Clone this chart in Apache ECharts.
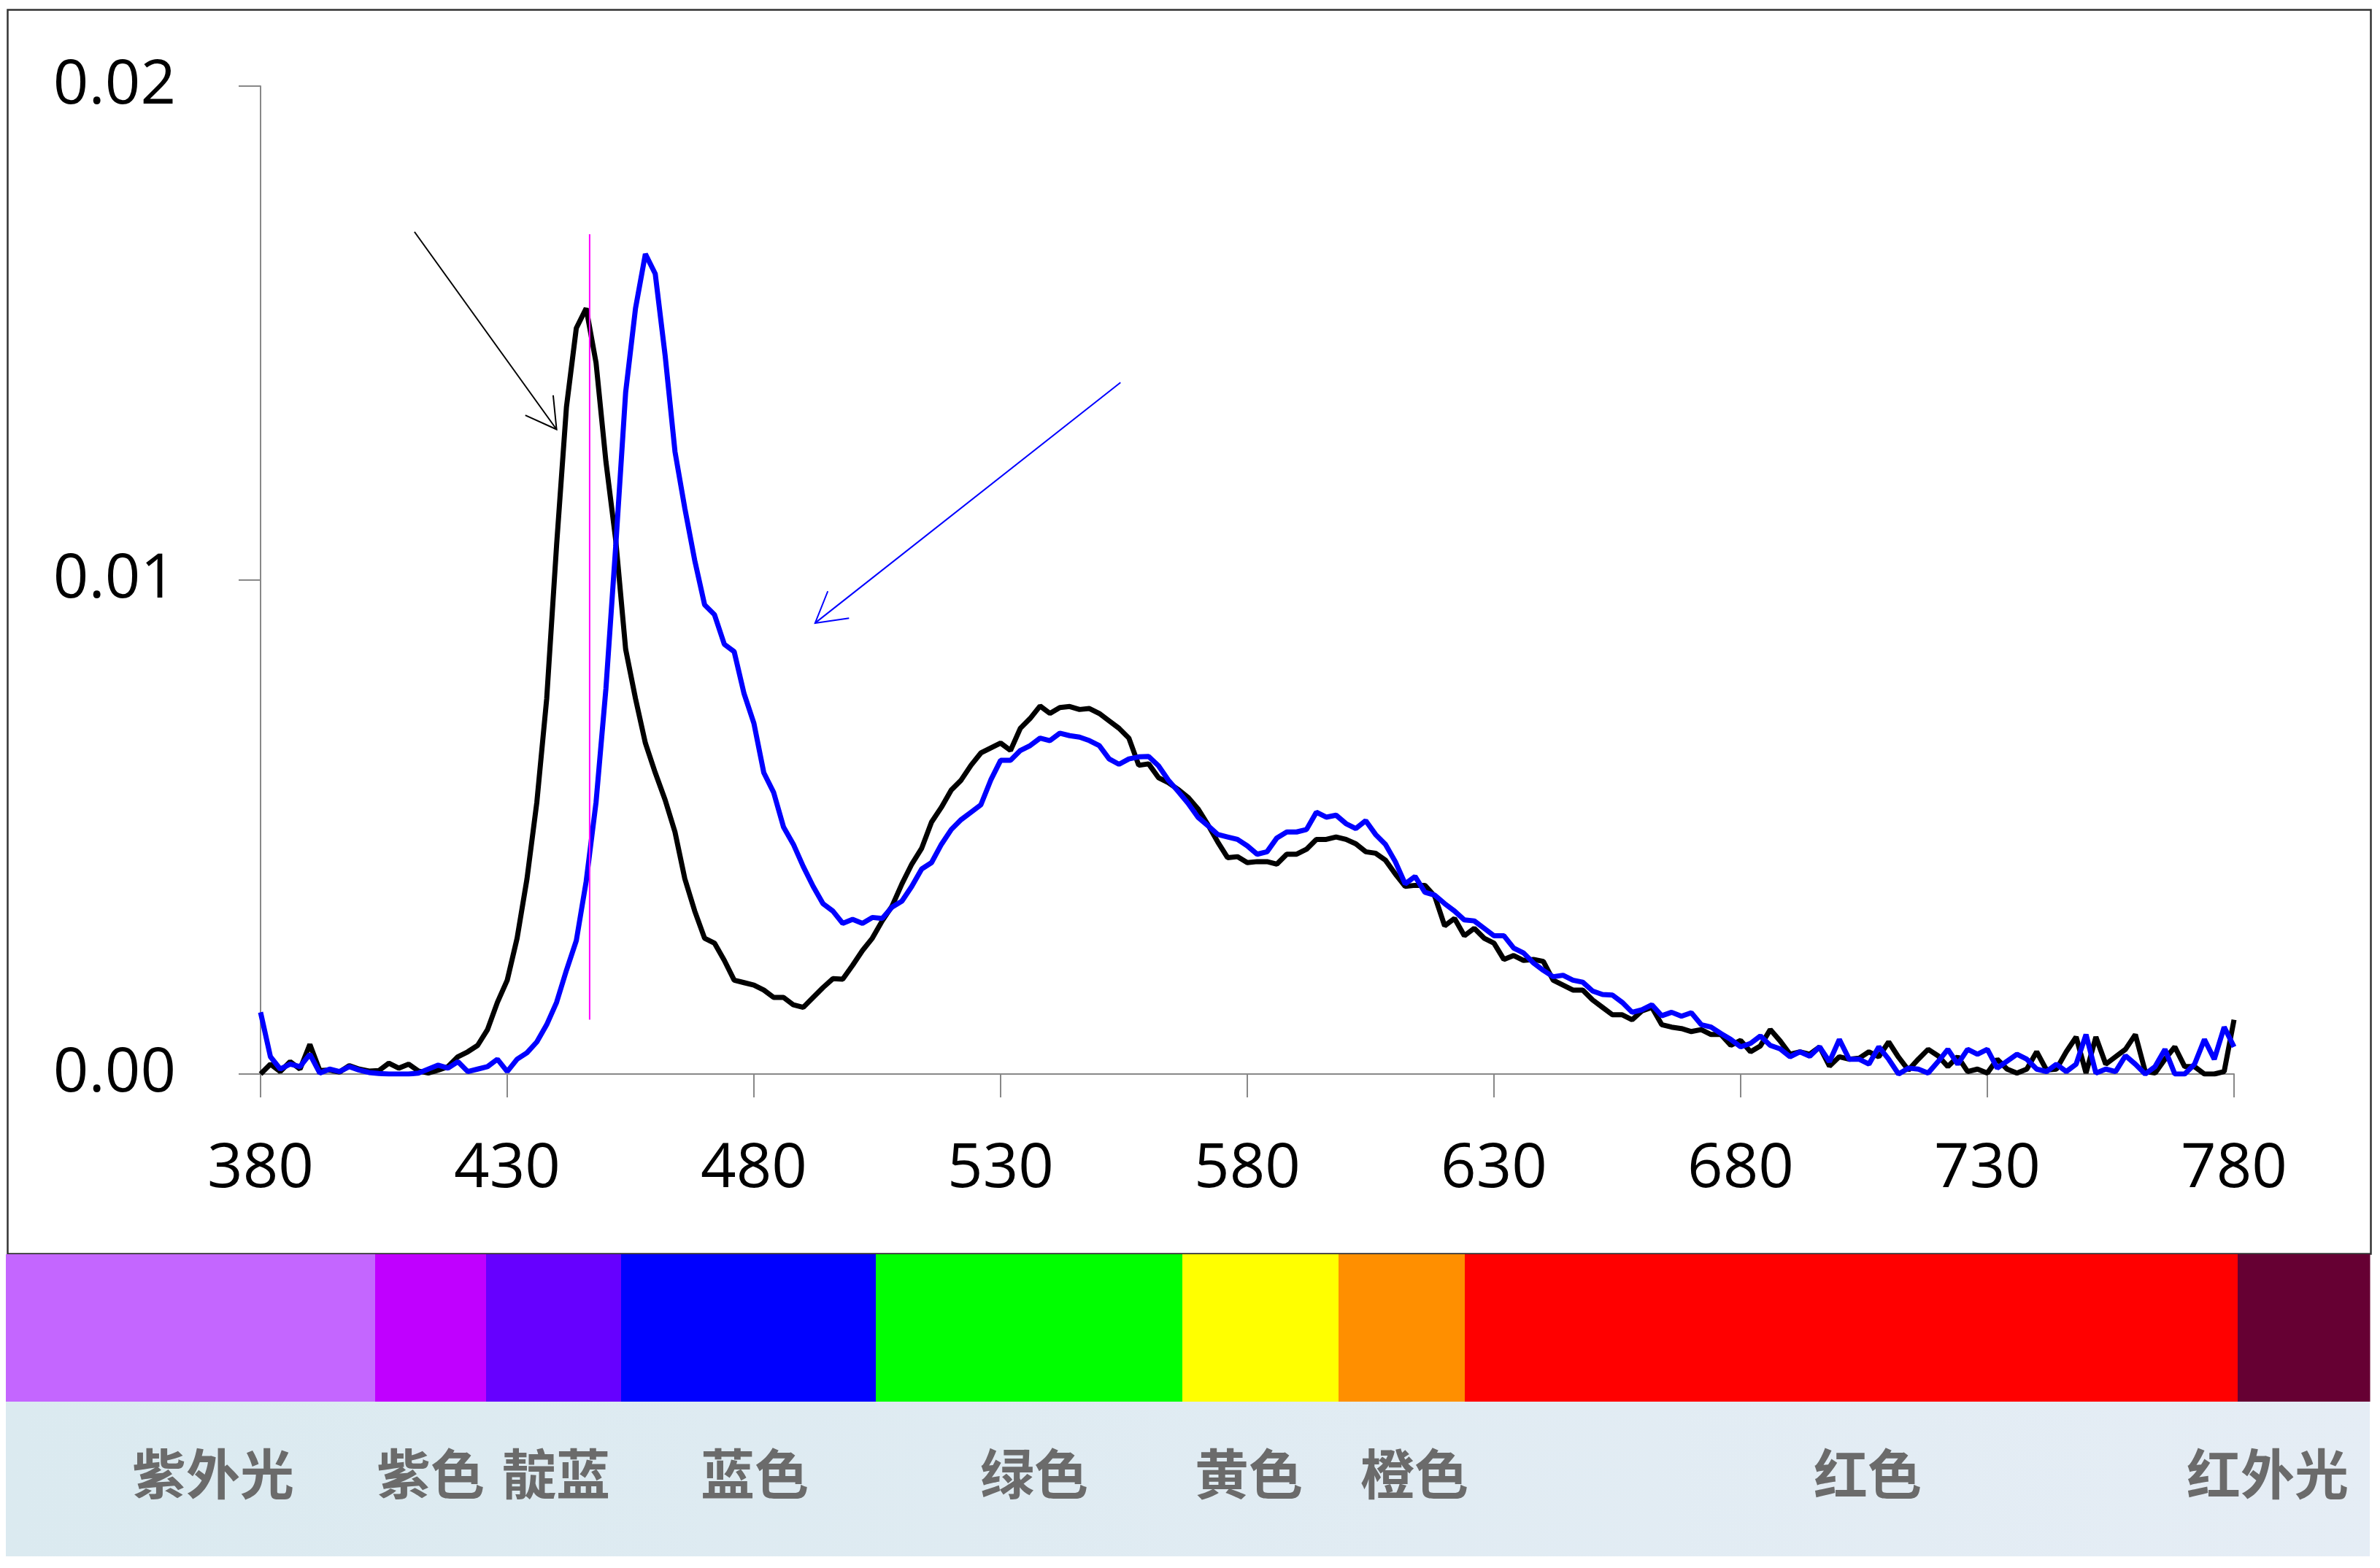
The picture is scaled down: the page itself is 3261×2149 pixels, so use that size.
<!DOCTYPE html>
<html><head><meta charset="utf-8">
<script src="https://cdn.jsdelivr.net/npm/echarts@6/dist/echarts.min.js"></script>
<style>html,body{margin:0;padding:0;background:#fff;}#chart{width:3261px;height:2149px;}</style>
</head><body><div id="chart"></div>
<script>
// ---------- DATA ----------
// sampling grid of the spectra (nm)
const WAVELENGTHS = Array.from({length: 201}, (_, i) => 380 + 2 * i);

// black spectrum, one value every 2 nm from 380 to 780
const SPD_BLACK = [
  0, 0.0002, 0.00005, 0.00025, 0.0001, 0.0006, 0.00007, 0.00008, 0.00004, 0.00017,
  0.0001, 0.00006, 0.00007, 0.00022, 0.00012, 0.0002, 0.00006, 0.00002, 0.00008, 0.00015,
  0.00035, 0.00045, 0.00058, 0.0009, 0.00145, 0.0019, 0.00275, 0.00395, 0.0055, 0.0076,
  0.0107, 0.0135, 0.0151, 0.0155, 0.0144, 0.0124, 0.0108, 0.0086, 0.0076, 0.0067,
  0.0061, 0.00555, 0.0049, 0.00395, 0.0033, 0.00275, 0.00265, 0.0023, 0.0019, 0.00185,
  0.0018, 0.0017, 0.00155, 0.00155, 0.0014, 0.00135, 0.00155, 0.00175, 0.00193, 0.00192,
  0.0022, 0.0025, 0.00275, 0.0031, 0.0034, 0.00385, 0.00425, 0.00457, 0.0051, 0.0054,
  0.00575, 0.00595, 0.00625, 0.0065, 0.0066, 0.0067, 0.00655, 0.007, 0.0072, 0.00745,
  0.0073, 0.00742, 0.00744, 0.00738, 0.0074, 0.0073, 0.00715, 0.007, 0.0068, 0.00625,
  0.00628, 0.006, 0.0059, 0.00576, 0.0056, 0.00537, 0.00505, 0.0047, 0.00438, 0.0044,
  0.00428, 0.0043, 0.0043, 0.00425, 0.00445, 0.00445, 0.00455, 0.00475, 0.00475, 0.0048,
  0.00475, 0.00466, 0.0045, 0.00447, 0.00433, 0.00405, 0.0038, 0.00382, 0.00382, 0.0036,
  0.003, 0.00315, 0.0028, 0.00295, 0.00275, 0.00265, 0.00232, 0.0024, 0.0023, 0.00232,
  0.00228, 0.0019, 0.0018, 0.0017, 0.0017, 0.0015, 0.00135, 0.0012, 0.0012, 0.0011,
  0.00128, 0.00135, 0.001, 0.00095, 0.00092, 0.00086, 0.0009, 0.0008, 0.0008, 0.00058,
  0.00068, 0.00045, 0.00057, 0.0009, 0.00067, 0.0004, 0.00045, 0.0004, 0.00055, 0.00016,
  0.00035, 0.0003, 0.00032, 0.00045, 0.00035, 0.00065, 0.00034, 0.00008, 0.0003, 0.0005,
  0.00037, 0.00015, 0.00035, 0.00005, 0.0001, 0.00002, 0.0003, 0.0001, 0.00002, 0.0001,
  0.00045, 0.00008, 0.0001, 0.00045, 0.00075, 0.00002, 0.00075, 0.0002, 0.00035, 0.0005,
  0.0008, 0.00005, 0.00002, 0.0003, 0.00055, 0.00015, 0.00015, 0, 0, 0.00005,
  0.0011
];

// blue spectrum, one value every 2 nm from 380 to 780
const SPD_BLUE = [
  0.00125, 0.00035, 0.0001, 0.0002, 0.00015, 0.0004, 0.00002, 0.0001, 0.00005, 0.00015,
  0.00008, 0.00003, 0.00001, 0, 0, 0, 0.00002, 0.0001, 0.00018, 0.00012,
  0.00025, 0.00005, 0.0001, 0.00015, 0.0003, 0.00005, 0.0003, 0.00043, 0.00065, 0.001,
  0.00145, 0.0021, 0.0027, 0.0039, 0.0055, 0.0078, 0.0107, 0.0138, 0.0155, 0.0166,
  0.0162, 0.01455, 0.0126, 0.01145, 0.0104, 0.0095, 0.0093, 0.0087, 0.00855, 0.0077,
  0.0071, 0.0061, 0.0057, 0.005, 0.00465, 0.0042, 0.0038, 0.00345, 0.0033, 0.00305,
  0.00313, 0.00305, 0.00317, 0.00315, 0.00338, 0.0035, 0.0038, 0.00415, 0.00428, 0.00465,
  0.00495, 0.00515, 0.0053, 0.00545, 0.00595, 0.00635, 0.00635, 0.00655, 0.00665, 0.0068,
  0.00675, 0.0069, 0.00685, 0.00682, 0.00675, 0.00665, 0.00638, 0.00627, 0.00638, 0.00642,
  0.00643, 0.00624, 0.00595, 0.00572, 0.00548, 0.0052, 0.00503, 0.00485, 0.0048, 0.00475,
  0.00462, 0.00445, 0.0045, 0.00478, 0.0049, 0.0049, 0.00495, 0.0053, 0.0052, 0.00524,
  0.00507, 0.00497, 0.00513, 0.00485, 0.00465, 0.0043, 0.00385, 0.004, 0.00368, 0.00362,
  0.00345, 0.0033, 0.00312, 0.0031, 0.00295, 0.0028, 0.0028, 0.00255, 0.00245, 0.00225,
  0.0021, 0.00197, 0.002, 0.0019, 0.00186, 0.00168, 0.00161, 0.0016, 0.00145, 0.00125,
  0.0013, 0.0014, 0.00118, 0.00125, 0.00117, 0.00124, 0.001, 0.00095, 0.00082, 0.0007,
  0.00055, 0.00062, 0.00077, 0.00058, 0.00051, 0.00035, 0.00045, 0.00036, 0.00055, 0.00025,
  0.0007, 0.0003, 0.0003, 0.0002, 0.00055, 0.0003, 0, 0.00012, 0.0001, 0.00002,
  0.00025, 0.0005, 0.0002, 0.0005, 0.0004, 0.0005, 0.00012, 0.00026, 0.0004, 0.0003,
  0.0001, 0.00005, 0.0002, 0.00005, 0.0002, 0.0008, 0.00002, 0.0001, 0.00005, 0.00037,
  0.0002, 0, 0.00015, 0.0005, 0, 0, 0.0002, 0.0007, 0.0003, 0.00095,
  0.00055
];

// axis ranges / tick steps
const X_RANGE = [380, 780];
const X_STEP = 50;
const Y_RANGE = [0, 0.02];
const Y_STEP = 0.01;

// magenta reference line at the black peak (nm, value pairs)
const MARKER_LINE = [[446.7, 0.0011], [446.7, 0.0170]];
// arrows: [x start, y start, x tip, y tip]
const ARROW_BLACK = [[411.2, 0.01705, 440.0, 0.01305]];
const ARROW_BLUE = [[554.3, 0.0140, 492.4, 0.00913]];

// spectrum colour band under the chart
const BAND_COLORS = ['#c466ff', '#c000ff', '#6600ff', '#0000ff', '#00ff00', '#ffff00', '#ff8f00', '#ff0000', '#660033'];
const BAND_LABELS = ['紫外光', '紫色', '靛蓝', '蓝色', '绿色', '黄色', '橙色', '红色', '红外光'];

// ---------- LAYOUT (pixels) ----------
const LAYOUT = {
  frame: {x: 8, y: 11, w: 3238, h: 1705},
  bandEdges: [8, 514, 666, 851, 1200, 1620, 1834, 2007, 3066, 3247],
  bandTop: 1719, bandBottom: 1921,
  labelBgBottom: 2133,
  labelX: [292, 590, 762, 1034, 1417, 1711, 1938, 2559, 3107],
  labelY: 2020
};

const chart = echarts.init(document.getElementById('chart'), null, {renderer: 'canvas'});

function arrowRenderer(color) {
  return function (params, api) {
    const p1 = api.coord([api.value(0), api.value(1)]);
    const p2 = api.coord([api.value(2), api.value(3)]);
    const ang = Math.atan2(p1[1] - p2[1], p1[0] - p2[0]);
    const L = 47, a = Math.PI / 6;
    const h1 = [p2[0] + L * Math.cos(ang + a), p2[1] + L * Math.sin(ang + a)];
    const h2 = [p2[0] + L * Math.cos(ang - a), p2[1] + L * Math.sin(ang - a)];
    const style = {stroke: color, lineWidth: 2, fill: null};
    return {
      type: 'group',
      children: [
        {type: 'line', shape: {x1: p1[0], y1: p1[1], x2: p2[0], y2: p2[1]}, style: style},
        {type: 'polyline', shape: {points: [h1, p2, h2]}, style: style}
      ]
    };
  };
}

const graphics = [];
graphics.push({
  type: 'rect', left: LAYOUT.frame.x, top: LAYOUT.frame.y, z: -10,
  shape: {width: LAYOUT.frame.w, height: LAYOUT.frame.h},
  style: {fill: null, stroke: '#333333', lineWidth: 2.5}
});
graphics.push({
  type: 'rect', left: LAYOUT.bandEdges[0], top: LAYOUT.bandBottom,
  shape: {width: LAYOUT.bandEdges[LAYOUT.bandEdges.length - 1] - LAYOUT.bandEdges[0], height: LAYOUT.labelBgBottom - LAYOUT.bandBottom},
  style: {fill: {type: 'linear', x: 0, y: 0, x2: 1, y2: 0, colorStops: [{offset: 0, color: '#dbeaf0'}, {offset: 1, color: '#e5edf5'}]}}
});
BAND_COLORS.forEach(function (c, i) {
  graphics.push({
    type: 'rect', left: LAYOUT.bandEdges[i], top: LAYOUT.bandTop,
    shape: {width: LAYOUT.bandEdges[i + 1] - LAYOUT.bandEdges[i] + 0.5, height: LAYOUT.bandBottom - LAYOUT.bandTop},
    style: {fill: c}
  });
});
BAND_LABELS.forEach(function (t, i) {
  graphics.push({
    type: 'text', x: LAYOUT.labelX[i], y: LAYOUT.labelY,
    style: {text: t, fill: '#6b6b6b', font: 'bold 74px "Noto Sans CJK SC"', textAlign: 'center', textVerticalAlign: 'middle'}
  });
});

const axisLineStyle = {color: '#888888', width: 2};
const tickFont = {fontFamily: 'Open Sans', fontSize: 85, color: '#000'};

function spectrumSeries(name, values, color, z) {
  return {
    type: 'line', name: name, showSymbol: false, symbol: 'none',
    data: WAVELENGTHS.map(function (w, i) { return [w, values[i]]; }),
    lineStyle: {color: color, width: 7},
    itemStyle: {color: color},
    emphasis: {disabled: true},
    z: z
  };
}

chart.setOption({
  animation: false,
  backgroundColor: '#ffffff',
  grid: {left: 357, right: 200, top: 118, bottom: 677, containLabel: false},
  xAxis: {
    type: 'value', min: X_RANGE[0], max: X_RANGE[1], interval: X_STEP,
    axisLine: {show: true, onZero: false, lineStyle: axisLineStyle},
    axisTick: {show: true, inside: false, length: 32, lineStyle: axisLineStyle},
    splitLine: {show: false},
    axisLabel: Object.assign({margin: 88}, tickFont)
  },
  yAxis: {
    type: 'value', min: Y_RANGE[0], max: Y_RANGE[1], interval: Y_STEP,
    axisLine: {show: true, lineStyle: axisLineStyle},
    axisTick: {show: true, inside: false, length: 30, lineStyle: axisLineStyle},
    splitLine: {show: false},
    axisLabel: Object.assign({margin: 116, formatter: function (v) { return v.toFixed(2); }}, tickFont)
  },
  graphic: graphics,
  series: [
    spectrumSeries('black', SPD_BLACK, '#000000', 3),
    spectrumSeries('blue', SPD_BLUE, '#0000ff', 4),
    {
      type: 'line', name: 'marker', showSymbol: false, symbol: 'none',
      data: MARKER_LINE,
      lineStyle: {color: '#ff00ff', width: 2}, emphasis: {disabled: true}, z: 5
    },
    {
      type: 'custom', name: 'arrowBlack', data: ARROW_BLACK,
      encode: {x: [0, 2], y: [1, 3]}, renderItem: arrowRenderer('#000000'), z: 6
    },
    {
      type: 'custom', name: 'arrowBlue', data: ARROW_BLUE,
      encode: {x: [0, 2], y: [1, 3]}, renderItem: arrowRenderer('#0000ff'), z: 6
    }
  ]
});
</script>
</body></html>
